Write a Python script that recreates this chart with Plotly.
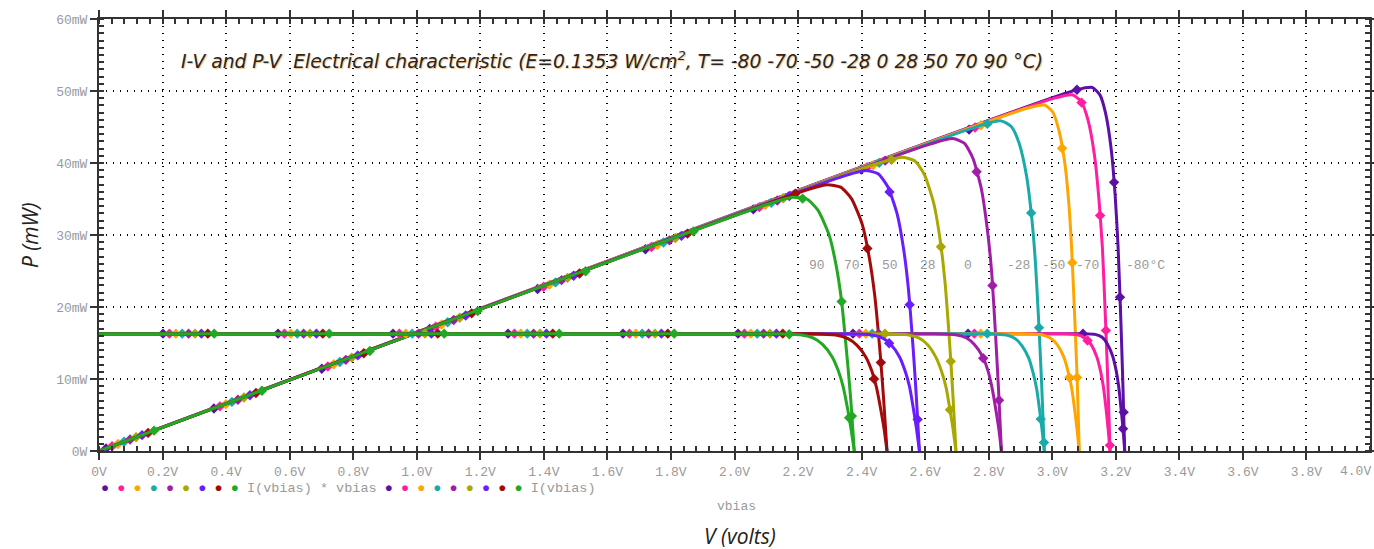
import numpy as np
import plotly.graph_objects as go

# ---------------- data ----------------
temps = ["-80", "-70", "-50", "-28", "0", "28", "50", "70", "90"]
label_texts = ["-80°C", "-70", "-50", "-28", "0", "28", "50", "70", "90"]

# I(vbias) curves : voltage (V) and current (shown on the mW scale)
i_volts = [
    [0, 3.091, 3.135, 3.157, 3.173, 3.190, 3.201, 3.209, 3.217, 3.223, 3.228],
    [0, 3.032, 3.080, 3.104, 3.122, 3.140, 3.152, 3.161, 3.170, 3.176, 3.182],
    [0, 2.910, 2.966, 2.994, 3.015, 3.036, 3.050, 3.061, 3.071, 3.078, 3.085],
    [0, 2.800, 2.856, 2.884, 2.905, 2.926, 2.940, 2.951, 2.961, 2.968, 2.975],
    [0, 2.628, 2.696, 2.730, 2.755, 2.781, 2.798, 2.810, 2.823, 2.832, 2.840],
    [0, 2.472, 2.544, 2.580, 2.607, 2.634, 2.652, 2.666, 2.679, 2.688, 2.697],
    [0, 2.357, 2.429, 2.465, 2.492, 2.519, 2.537, 2.551, 2.564, 2.573, 2.582],
    [0, 2.243, 2.319, 2.357, 2.385, 2.414, 2.433, 2.447, 2.461, 2.471, 2.480],
    [0, 2.127, 2.207, 2.247, 2.277, 2.307, 2.327, 2.342, 2.357, 2.367, 2.377],
]
i_values = [
    [16.3, 16.3, 16.2, 15.8, 14.9, 13.2, 11.2, 9.0, 5.7, 3.0, 0],
    [16.3, 16.3, 16.15, 15.7, 14.8, 13.1, 11.1, 8.9, 5.6, 3.0, 0],
    [16.3, 16.3, 16.15, 15.7, 14.8, 13.1, 11.0, 8.8, 5.6, 3.0, 0],
    [16.3, 16.3, 16.1, 15.6, 14.6, 12.9, 10.8, 8.6, 5.4, 2.9, 0],
    [16.3, 16.3, 16.15, 15.7, 14.8, 13.1, 11.1, 8.9, 5.6, 3.0, 0],
    [16.3, 16.3, 16.15, 15.7, 14.8, 13.0, 11.0, 8.8, 5.5, 3.0, 0],
    [16.3, 16.3, 16.15, 15.7, 14.8, 13.1, 11.1, 8.9, 5.6, 3.0, 0],
    [16.3, 16.3, 16.1, 15.6, 14.7, 13.0, 11.0, 8.8, 5.6, 3.0, 0],
    [16.3, 16.3, 16.15, 15.7, 14.8, 13.1, 11.1, 8.9, 5.6, 3.0, 0],
]

# I(vbias) * vbias curves : voltage (V) and power (mW)
p_volts = [
    [0, 3.078, 3.126, 3.150, 3.168, 3.186, 3.198, 3.207, 3.216, 3.222, 3.228],
    [0, 3.007, 3.063, 3.091, 3.112, 3.133, 3.147, 3.158, 3.168, 3.175, 3.182],
    [0, 2.923, 2.975, 3.001, 3.020, 3.040, 3.053, 3.062, 3.072, 3.079, 3.085],
    [0, 2.775, 2.839, 2.871, 2.895, 2.919, 2.935, 2.947, 2.959, 2.967, 2.975],
    [0, 2.615, 2.687, 2.723, 2.750, 2.777, 2.795, 2.809, 2.822, 2.831, 2.840],
    [0, 2.447, 2.527, 2.567, 2.597, 2.627, 2.647, 2.662, 2.677, 2.687, 2.697],
    [0, 2.332, 2.412, 2.452, 2.482, 2.512, 2.532, 2.547, 2.562, 2.572, 2.582],
    [0, 2.200, 2.290, 2.334, 2.368, 2.402, 2.424, 2.441, 2.458, 2.469, 2.480],
    [0, 2.090, 2.182, 2.228, 2.262, 2.297, 2.320, 2.337, 2.354, 2.366, 2.377],
]
p_values = [
    [0, 50.17, 50.48, 49.46, 46.89, 41.74, 35.50, 28.54, 18.01, 9.67, 0],
    [0, 49.01, 49.47, 48.53, 46.06, 41.04, 34.93, 28.11, 17.74, 9.53, 0],
    [0, 47.64, 48.05, 47.12, 44.70, 39.82, 33.89, 27.25, 17.20, 9.24, 0],
    [0, 45.23, 45.85, 45.07, 42.85, 38.24, 32.58, 26.23, 16.57, 8.90, 0],
    [0, 42.62, 43.40, 42.75, 40.70, 36.38, 31.02, 25.00, 15.80, 8.49, 0],
    [0, 39.89, 40.81, 40.30, 38.44, 34.41, 29.38, 23.69, 14.99, 8.06, 0],
    [0, 38.01, 38.95, 38.50, 36.73, 32.91, 28.11, 22.67, 14.35, 7.72, 0],
    [0, 35.86, 36.98, 36.64, 35.05, 31.47, 26.91, 21.72, 13.76, 7.41, 0],
    [0, 34.07, 35.24, 34.98, 33.48, 30.09, 25.75, 20.80, 13.18, 7.10, 0],
]

x_tick_vals = [0, 0.2, 0.4, 0.6, 0.8, 1.0, 1.2, 1.4, 1.6, 1.8, 2.0,
               2.2, 2.4, 2.6, 2.8, 3.0, 3.2, 3.4, 3.6, 3.8, 4.0]
x_tick_labels = ["0V", "0.2V", "0.4V", "0.6V", "0.8V", "1.0V", "1.2V", "1.4V",
                 "1.6V", "1.8V", "2.0V", "2.2V", "2.4V", "2.6V", "2.8V", "3.0V",
                 "3.2V", "3.4V", "3.6V", "3.8V", "4.0V"]
y_tick_vals = [0, 10, 20, 30, 40, 50, 60]
y_tick_labels = ["0W", "10mW", "20mW", "30mW", "40mW", "50mW", "60mW"]

# ---------------- styling / layout ----------------
colors = ["#5C10A6", "#FF1EA0", "#FFA500", "#1AAAAA", "#A01EA6",
          "#A8A800", "#6A1EFF", "#A30A0A", "#22A822"]
label_x = [3.295, 3.111, 3.003, 2.895, 2.736, 2.61, 2.49, 2.371, 2.26]
label_y = 25.7

W, H = 1374, 549
ML, MR, MT, MB = 99, 4, 19, 98
X_RANGE = [0, 4]
Y_RANGE = [0, 60]
PW, PH = W - ML - MR, H - MT - MB
px_per_x = PW / (X_RANGE[1] - X_RANGE[0])
px_per_y = PH / (Y_RANGE[1] - Y_RANGE[0])

MARK_STEP = 115.0   # screen distance between markers of one curve
MARK_SHIFT = 6.4    # screen shift between successive curves


def marker_positions(xs, ys, start):
    xs = np.asarray(xs, float)
    ys = np.asarray(ys, float)
    sx, sy = xs * px_per_x, ys * px_per_y
    seg = np.hypot(np.diff(sx), np.diff(sy))
    cum = np.concatenate([[0.0], np.cumsum(seg)])
    targets = np.arange(start, cum[-1], MARK_STEP)
    return np.interp(targets, cum, xs), np.interp(targets, cum, ys)


fig = go.Figure()

mono = "Liberation Mono, DejaVu Sans Mono, monospace"
sans = "Open Sans, Lato, sans-serif"
tick_font = dict(family=mono, size=13, color="#9a9a9a")

# P-V curves
for k in range(len(temps)):
    fig.add_trace(go.Scatter(x=p_volts[k], y=p_values[k], mode="lines",
                             line=dict(color=colors[k], width=3, shape="spline", smoothing=0.6),
                             hoverinfo="skip"))
    mx, my = marker_positions(p_volts[k], p_values[k], 7.5 + MARK_SHIFT * k)
    fig.add_trace(go.Scatter(x=mx, y=my, mode="markers",
                             marker=dict(symbol="diamond", size=8, color=colors[k]),
                             hoverinfo="skip"))

# I-V curves
for k in range(len(temps)):
    fig.add_trace(go.Scatter(x=i_volts[k], y=i_values[k], mode="lines",
                             line=dict(color=colors[k], width=3, shape="spline", smoothing=0.6),
                             hoverinfo="skip"))
    mx, my = marker_positions(i_volts[k], i_values[k], 64 + MARK_SHIFT * k)
    fig.add_trace(go.Scatter(x=mx, y=my, mode="markers",
                             marker=dict(symbol="diamond", size=8, color=colors[k]),
                             hoverinfo="skip"))

axis_common = dict(
    automargin=False,
    showline=True, linecolor="#333333", linewidth=2, mirror="allticks",
    ticks="outside", ticklen=7, tickwidth=2, tickcolor="#333333",
    showgrid=True, gridcolor="#000000", gridwidth=1.5, griddash="1px,6px",
    zeroline=False, tickfont=tick_font,
)

# the last x label sits at the page edge, so it is drawn right-aligned as an annotation
fig.update_xaxes(range=X_RANGE, tickmode="array", tickvals=x_tick_vals[:-1],
                 ticktext=x_tick_labels[:-1],
                 minor=dict(tickmode="linear", tick0=0, dtick=0.04, ticks="inside", ticklen=5,
                            tickwidth=1.5, tickcolor="#333333", showgrid=False),
                 **axis_common)
fig.update_yaxes(range=Y_RANGE, tickmode="array", tickvals=y_tick_vals, ticktext=y_tick_labels,
                 minor=dict(tickmode="linear", tick0=0, dtick=1, ticks="inside", ticklen=5,
                            tickwidth=1.5, tickcolor="#333333", showgrid=False),
                 **axis_common)

annotations = []
# last x tick label
annotations.append(dict(x=x_tick_vals[-1], y=0, xref="x", yref="paper", xanchor="right",
                        yanchor="top", yshift=-11, xshift=3, showarrow=False,
                        text=x_tick_labels[-1], font=tick_font))
# temperature labels
for k in range(len(temps)):
    annotations.append(dict(x=label_x[k], y=label_y, xref="x", yref="y", text=label_texts[k],
                            showarrow=False, font=dict(family=mono, size=13, color="#9a9a9a")))

# title
annotations.append(dict(
    x=1.613, y=54.3, xref="x", yref="y", showarrow=False,
    text="<i>I-V and P-V \u00a0Electrical characteristic (E=0.1353 W/cm<sup>2</sup>, "
         "T= -80 -70 -50 -28 0 28 50 70 90 °C)</i>",
    font=dict(family="DejaVu Sans, sans-serif", size=18.7, color="#262626",
              shadow="1px 1px 1px rgba(235,140,40,0.55)")))

# legend line
dots_html = " ".join('<span style="color:%s">●</span>' % c for c in colors)
annotations.append(dict(
    x=0, y=-37 / PH, xref="x", yref="paper", xanchor="left", yanchor="middle",
    showarrow=False,
    text=dots_html + ' <span style="color:#9a9a9a">I(vbias) * vbias</span> ' + dots_html +
         ' <span style="color:#9a9a9a">I(vbias)</span>',
    font=dict(family=mono, size=13.5, color="#9a9a9a")))

# x variable name
annotations.append(dict(x=2.006, y=-56 / PH, xref="x", yref="paper", showarrow=False,
                        yanchor="middle", text="vbias",
                        font=dict(family=mono, size=13, color="#9a9a9a")))
# axis titles
annotations.append(dict(x=2.016, y=-85 / PH, xref="x", yref="paper", showarrow=False,
                        yanchor="middle", text="<i>V (volts)</i>",
                        font=dict(family=sans, size=21, color="#222222")))
annotations.append(dict(x=-69 / PW, y=30, xref="paper", yref="y", showarrow=False,
                        xanchor="center", text="<i>P (mW)</i>", textangle=-90,
                        font=dict(family=sans, size=21, color="#222222")))

fig.update_layout(
    width=W, height=H, margin=dict(l=ML, r=MR, t=MT, b=MB, autoexpand=False),
    plot_bgcolor="white", paper_bgcolor="white", showlegend=False,
    annotations=annotations,
)

fig.write_html("out.html", config={"displayModeBar": False},
               post_script="document.body.style.margin='0';document.body.style.overflow='hidden';")
